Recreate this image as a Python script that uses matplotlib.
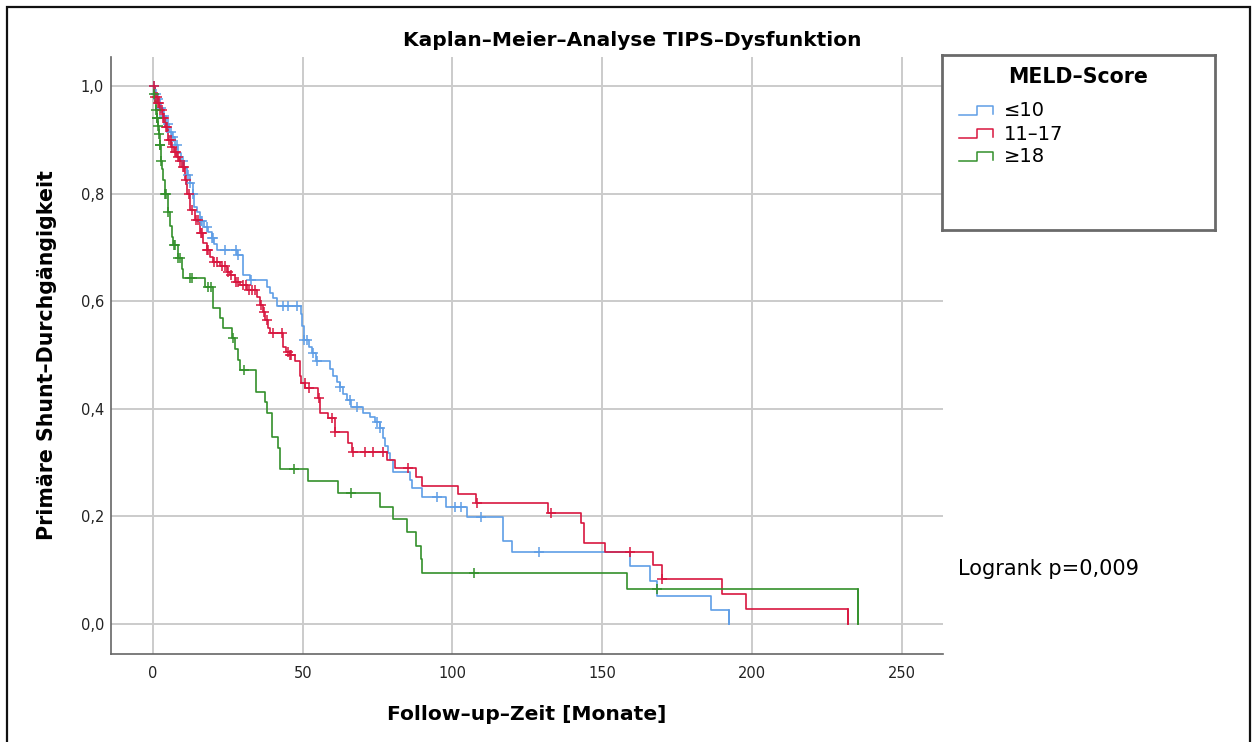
import numpy as np
import matplotlib
matplotlib.use("Agg")
import matplotlib.pyplot as plt
from matplotlib.patches import Rectangle

# ---- data ----------------------------------------------------------------
groups = ["≤10", "11–17", "≥18"]
colors = ["#5f9ee6", "#d8163f", "#33902b"]

blue_t = [0, 0.8, 1.5, 2.5, 3.5, 4.5, 5.5, 6.5, 7.5, 8.5, 9.5, 10.5, 11.5, 12.3,
          13.3, 13.8, 14.6, 15.7, 17.0, 18.3, 19.6, 20.5, 21.3, 28.2, 30.2, 32.4,
          38.0, 39.0, 40.2, 41.3, 49.3, 49.8, 50.5, 52.0, 53.0, 54.6, 59.1, 60.2,
          61.3, 62.4, 63.5, 64.7, 66.0, 70.2, 72.5, 74.0, 75.8, 76.9, 77.5, 78.6,
          79.1, 80.3, 85.8, 86.5, 90.0, 98.0, 105.0, 116.8, 119.8, 159.3, 166.0,
          168.2, 186.3, 192.4]
blue_s = [1.0, 0.985, 0.975, 0.96, 0.945, 0.93, 0.915, 0.905, 0.89, 0.875, 0.86,
          0.848, 0.835, 0.82, 0.80, 0.775, 0.765, 0.75, 0.738, 0.728, 0.718, 0.707,
          0.695, 0.686, 0.649, 0.639, 0.627, 0.615, 0.605, 0.591, 0.577, 0.553,
          0.528, 0.515, 0.503, 0.489, 0.473, 0.46, 0.45, 0.441, 0.428, 0.416, 0.404,
          0.392, 0.385, 0.375, 0.364, 0.345, 0.33, 0.318, 0.305, 0.283, 0.268,
          0.252, 0.235, 0.218, 0.199, 0.155, 0.133, 0.107, 0.079, 0.052, 0.026, 0.0]
blue_cens = [0.5, 1.0, 1.8, 2.8, 3.8, 5.1, 6.0, 6.8, 8.0, 10.1, 11.8, 12.5, 13.5,
             15.9, 16.5, 17.9, 19.8, 20.1, 24.0, 27.9, 28.5, 32.6, 43.5, 45.2, 48.0,
             50.5, 51.3, 53.5, 54.8, 62.6, 65.8, 68.0, 74.7, 75.9, 95.0, 101.0,
             103.0, 109.4, 129.0]

red_t = [0, 0.7, 1.5, 2.3, 3.2, 4.0, 5.1, 6.2, 7.0, 7.9, 8.8, 9.6, 10.7, 11.3, 12.4,
         14.0, 15.7, 16.8, 17.9, 19.0, 20.1, 22.4, 24.6, 25.7, 27.4, 29.0, 31.3,
         34.6, 35.7, 36.8, 37.4, 38.5, 39.0, 43.3, 44.5, 45.7, 47.4, 49.0, 49.6,
         50.9, 55.2, 55.8, 58.5, 60.8, 65.2, 66.4, 78.0, 80.8, 87.7, 90.0, 101.7,
         108.0, 132.0, 143.0, 144.0, 151.0, 167.0, 170.0, 190.0, 198.0, 232.2]
red_s = [1.0, 0.98, 0.968, 0.955, 0.94, 0.924, 0.9, 0.887, 0.878, 0.869, 0.86, 0.85,
         0.825, 0.8, 0.77, 0.751, 0.726, 0.708, 0.695, 0.683, 0.673, 0.665, 0.655,
         0.648, 0.636, 0.63, 0.621, 0.608, 0.593, 0.58, 0.565, 0.55, 0.541, 0.515,
         0.505, 0.5, 0.488, 0.46, 0.447, 0.438, 0.42, 0.392, 0.382, 0.357, 0.336,
         0.32, 0.305, 0.289, 0.274, 0.257, 0.242, 0.225, 0.207, 0.188, 0.151, 0.133,
         0.11, 0.083, 0.055, 0.027, 0.0]
red_cens = [0.3, 0.8, 1.2, 1.6, 2.0, 2.5, 3.0, 3.4, 3.8, 4.3, 4.8, 5.5, 6.0, 6.5,
            7.3, 7.8, 8.5, 9.2, 10.0, 10.5, 11.0, 12.0, 13.0, 14.5, 15.0, 15.9,
            16.5, 18.1, 18.5, 20.5, 21.5, 23.0, 24.0, 25.0, 26.0, 27.8, 28.5, 30.0,
            31.0, 32.0, 33.0, 34.0, 36.0, 37.0, 38.0, 40.0, 43.0, 45.0, 45.9, 46.2,
            50.7, 52.0, 55.3, 59.7, 60.9, 66.9, 70.8, 73.6, 76.9, 85.3, 108.1,
            133.0, 159.3, 170.1]

green_t = [0, 0.3, 0.6, 0.9, 1.2, 1.6, 2.0, 2.3, 2.6, 3.0, 3.5, 4.0, 5.0, 5.8, 6.5,
           6.8, 8.4, 9.6, 10.1, 17.4, 20.0, 22.4, 23.4, 26.3, 27.5, 28.5, 29.0,
           34.4, 37.4, 38.0, 39.6, 41.6, 42.4, 51.9, 61.9, 75.8, 80.2, 84.7, 87.9,
           89.5, 90.0, 158.4, 235.5]
green_s = [1.0, 0.985, 0.97, 0.955, 0.94, 0.925, 0.91, 0.89, 0.86, 0.845, 0.825,
           0.80, 0.765, 0.74, 0.72, 0.704, 0.68, 0.66, 0.643, 0.627, 0.587, 0.568,
           0.55, 0.531, 0.512, 0.491, 0.472, 0.432, 0.413, 0.392, 0.348, 0.327,
           0.288, 0.265, 0.243, 0.218, 0.195, 0.17, 0.145, 0.12, 0.095, 0.064, 0.0]
green_cens = [0.5, 1.0, 1.3, 1.4, 1.8, 2.1, 2.4, 2.5, 2.7, 4.1, 4.4, 5.1, 6.9, 7.3,
              8.5, 9.0, 12.5, 13.2, 18.4, 19.4, 26.6, 30.5, 47.1, 66.3, 107.3, 168.4]

curves = [(blue_t, blue_s, blue_cens), (red_t, red_s, red_cens),
          (green_t, green_s, green_cens)]

# ---- figure --------------------------------------------------------------
W, H = 1258, 742
fig = plt.figure(figsize=(W / 100, H / 100), dpi=100)
fig.patch.set_facecolor("white")
plt.rcParams["font.family"] = ["DejaVu Sans"]

ax = fig.add_axes([111 / W, 1 - 654 / H, (943 - 111) / W, (654 - 57) / H])
ax.set_xlim(-14, 263.8)
ax.set_ylim(-0.056, 1.054)

for (t, s, cens), col in zip(curves, colors):
    t = np.asarray(t); s = np.asarray(s)
    ax.step(t, s, where="post", color=col, lw=1.2, zorder=3)
    ax.plot([t[-1], t[-1]], [s[-2], s[-1]], color=col, lw=1.2, zorder=3)
    cens = np.asarray(cens)
    idx = np.searchsorted(t, cens, side="right") - 1
    ax.plot(cens, s[idx], ls="none", marker="+", ms=7.5, mew=1.1, color=col, zorder=4)

ax.set_xticks([0, 50, 100, 150, 200, 250])
ax.set_yticks([0.0, 0.2, 0.4, 0.6, 0.8, 1.0])
ax.set_yticklabels(["0,0", "0,2", "0,4", "0,6", "0,8", "1,0"])
ax.tick_params(axis="y", length=0, labelsize=10.5, colors="#222222", pad=5)
ax.tick_params(axis="x", length=0, labelsize=10.5, colors="#222222", pad=9)
ax.grid(True, color="#cbcbcb", lw=1.4, zorder=0)
ax.set_axisbelow(True)
for sp in ["top", "right"]:
    ax.spines[sp].set_visible(False)
for sp in ["left", "bottom"]:
    ax.spines[sp].set_color("#666666")
    ax.spines[sp].set_linewidth(1.2)

ax.set_xlabel("Follow–up–Zeit [Monate]", fontsize=14.6, fontweight="bold", labelpad=17)
fig.text(47 / W, 1 - 355 / H, "Primäre Shunt–Durchgängigkeit", rotation=90,
         ha="center", va="center", fontsize=14.8, fontweight="bold")
fig.text(632 / W, 1 - 40 / H, "Kaplan–Meier–Analyse TIPS–Dysfunktion",
         ha="center", va="center", fontsize=14.5, fontweight="bold")
fig.text(958 / W, 1 - 569 / H, "Logrank p=0,009", ha="left", va="center", fontsize=15)

# ---- legend box ------------------------------------------------------------
lg = fig.add_axes([942 / W, 1 - 230 / H, (1215 - 942) / W, (230 - 55) / H])
lg.set_xlim(942, 1215); lg.set_ylim(230, 55)
lg.set_xticks([]); lg.set_yticks([])
for sp in lg.spines.values():
    sp.set_color("#6a6a6a"); sp.set_linewidth(2)
lg.text(1078, 77, "MELD–Score", ha="center", va="center", fontsize=14.8,
        fontweight="bold")
for i, (name, col) in enumerate(zip(groups, colors)):
    y = 111 + i * 23
    lg.plot([959, 977, 977, 993, 993], [y + 4, y + 4, y - 5, y - 5, y + 3],
            color=col, lw=1.1)
    lg.text(1004, y, name, ha="left", va="center", fontsize=14)

# outer frame
fig.patches.append(Rectangle((7 / W, -0.02), (1250 - 7) / W, 1.02 - 7 / H,
                             transform=fig.transFigure, fill=False,
                             edgecolor="#111111", lw=1.6))

fig.savefig("out.png", dpi=100, facecolor="white")
